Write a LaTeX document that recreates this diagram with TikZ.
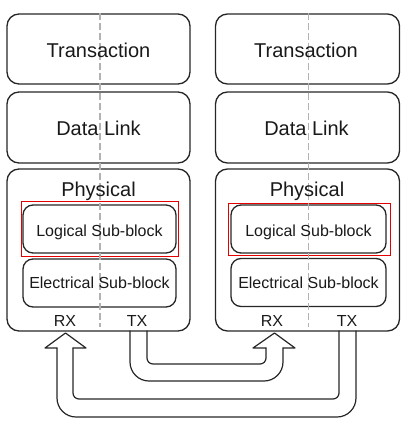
\documentclass[tikz,border=0pt]{standalone}
\usepackage{fontspec}
\setmainfont{Liberation Sans}
\begin{document}
\begin{tikzpicture}[x=1pt,y=-1pt,
  box/.style={draw=black!85, line width=1.3pt, rounded corners=12pt, inner sep=0pt, minimum width=183pt},
  sub/.style={draw=black!85, line width=1.3pt, rounded corners=10pt, inner sep=0pt, minimum height=48pt},
  redbox/.style={draw=red!90!black, line width=0.9pt, inner sep=0pt},
  big/.style={font=\fontsize{20}{24}\selectfont, text=black!90, anchor=base, inner sep=0pt},
  small/.style={font=\fontsize{16}{19}\selectfont, text=black!90, anchor=base, inner sep=0pt},
  axis/.style={draw=black!30, line width=1.8pt, dash pattern=on 7pt off 3pt},
  pipe/.style={draw=black!85, line width=1.2pt, line cap=round, line join=round}]
\useasboundingbox (0,0) rectangle (408,429);

% left stack
\node[box, minimum height=70pt] (transL) at (98.5,49) {};
\node[box, minimum height=71pt] (dlL) at (98.5,127.5) {};
\node[box, minimum height=162pt] (phyL) at (98.5,250) {};
\node[redbox, minimum width=157pt, minimum height=55pt] (redL) at (99.5,228.5) {};
\node[sub, minimum width=153pt] (logL) at (99.5,229) {};
\node[sub, minimum width=153pt] (elL) at (99.5,283) {};

% right stack
\node[box, minimum width=184pt, minimum height=70pt] (transR) at (307.5,49) {};
\node[box, minimum width=184pt, minimum height=71pt] (dlR) at (307.5,127.5) {};
\node[box, minimum width=184pt, minimum height=162pt] (phyR) at (307.5,250) {};
\node[redbox, minimum width=162pt, minimum height=52pt] (redR) at (309,229) {};
\node[sub, minimum width=155pt] (logR) at (308.5,229) {};
\node[sub, minimum width=155pt] (elR) at (308.5,282.5) {};

% dashed centre lines
\coordinate (axLt) at (100,13);
\coordinate (axLb) at (100,327);
\coordinate (axRt) at (308.5,13);
\coordinate (axRb) at (308.5,327);
\draw[axis] (axLt) -- (axLb);
\draw[axis] (axRt) -- (axRb);

% labels left
\node[big] (tTL) at (98.5,57) {Transaction};
\node[big] (tDL) at (98.5,135) {Data Link};
\node[big] (tPL) at (98.5,196) {Physical};
\node[small] (tLL) at (99.5,236) {Logical Sub-block};
\node[small] (tEL) at (99.5,288) {Electrical Sub-block};
\node[small] (rxL) at (65,326) {RX};
\node[small] (txL) at (137,326) {TX};

% labels right
\node[big] (tTR) at (306,57) {Transaction};
\node[big] (tDR) at (306.5,135) {Data Link};
\node[big] (tPR) at (307,196) {Physical};
\node[small] (tLR) at (308.5,236) {Logical Sub-block};
\node[small] (tER) at (308.5,288) {Electrical Sub-block};
\node[small] (rxR) at (272,326) {RX};
\node[small] (txR) at (347,326) {TX};

% big loop: right TX -> left RX
\draw[pipe, rounded corners=19pt] (356,331) -- (356,417) -- (57,417) -- (57,348);
\draw[pipe] (57,348) -- (45,348) -- (65.5,333) -- (86,348) -- (73,348);
\draw[pipe, rounded corners=6pt] (73,348) -- (73,399) -- (339,399) -- (339,331);

% small loop: left TX -> right RX
\draw[pipe, rounded corners=19pt] (130,331) -- (130,381) -- (283,381) -- (283,348);
\draw[pipe] (283,348) -- (295,348) -- (274.5,333) -- (253,348) -- (266,348);
\draw[pipe, rounded corners=6pt] (266,348) -- (266,364) -- (147,364) -- (147,331);
\end{tikzpicture}
\end{document}
